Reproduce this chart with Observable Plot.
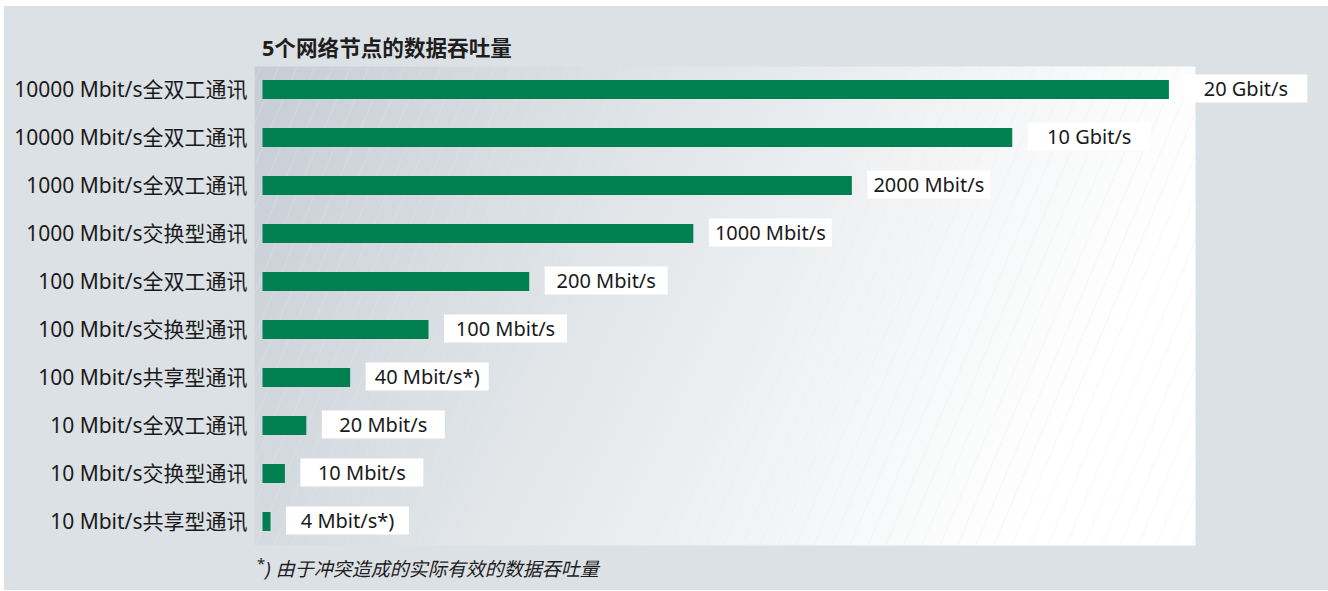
<!DOCTYPE html>
<html>
<head>
<meta charset="utf-8">
<script src="https://cdn.jsdelivr.net/npm/d3@7"></script>
<script src="https://cdn.jsdelivr.net/npm/@observablehq/plot@0.6"></script>
<style>
  html, body { margin: 0; padding: 0; background: #ffffff; }
  body { width: 1328px; height: 591px; position: relative; overflow: hidden;
         font-family: "Noto Sans", "Noto Sans CJK SC", sans-serif; }
  #bg { position: absolute; left: 4px; top: 6px; width: 1324px; height: 584px; background: #dce1e5; }
  #chart { position: absolute; left: 0; top: 0; }
  #title { position: absolute; left: 262px; top: 36px; font-size: 21.6px; line-height: 24px;
           font-weight: bold; color: #1e1e1e; font-family: "Noto Sans", "Noto Sans CJK SC", sans-serif; white-space: nowrap; }
  #note { position: absolute; left: 257px; top: 557px; font-size: 19px; line-height: 24px;
          color: #1e1e1e; white-space: nowrap; }
  #note sup { font-size: 15px; position: relative; top: -7px; vertical-align: baseline; }
  #note i { font-style: italic; }
</style>
</head>
<body>
<div id="bg"></div>
<div id="chart"></div>
<div id="title">5个网络节点的数据吞吐量</div>
<div id="note"><sup>*</sup><i>) 由于冲突造成的实际有效的数据吞吐量</i></div>
<script>
// Row labels, top to bottom
const categories = [
  "10000 Mbit/s全双工通讯",
  "10000 Mbit/s全双工通讯",
  "1000 Mbit/s全双工通讯",
  "1000 Mbit/s交换型通讯",
  "100 Mbit/s全双工通讯",
  "100 Mbit/s交换型通讯",
  "100 Mbit/s共享型通讯",
  "10 Mbit/s全双工通讯",
  "10 Mbit/s交换型通讯",
  "10 Mbit/s共享型通讯"
];
// Throughput value labels
const throughputLabels = [
  "20 Gbit/s", "10 Gbit/s", "2000 Mbit/s", "1000 Mbit/s", "200 Mbit/s",
  "100 Mbit/s", "40 Mbit/s*)", "20 Mbit/s", "10 Mbit/s", "4 Mbit/s*)"
];
// Visual bar lengths (relative units; the original scale is not proportional)
const barLengths = [97.2, 80.4, 63.2, 46.2, 28.6, 17.8, 9.4, 4.7, 2.4, 0.86];

const rows = categories.map((c, i) => ({i, category: c, label: throughputLabels[i], len: barLengths[i]}));

const labelBox = {
  draw(context) { context.rect(-61.5, -14, 123, 28); }
};

const chart = Plot.plot({
  width: 1328,
  height: 591,
  marginLeft: 254,
  marginRight: 133,
  marginTop: 64,
  marginBottom: 44,
  style: {fontFamily: "'Noto Sans', 'Noto Sans CJK SC', sans-serif", background: "transparent", color: "#1a1a1a"},
  x: {domain: [0, 100], insetLeft: 8.5, axis: null},
  y: {type: "band", domain: d3.range(categories.length), paddingInner: 0.6, paddingOuter: 0.3, label: null},
  marks: [
    Plot.frame({fill: "url(#panelGrad)", stroke: "none", insetTop: 2, insetBottom: 2}),
    Plot.frame({fill: "url(#hatchLight)", stroke: "none", insetTop: 2, insetBottom: 2}),
    Plot.frame({fill: "url(#hatchDark)", stroke: "none", insetTop: 2, insetBottom: 2}),
    Plot.barX(rows, {x: "len", y: "i", fill: "#007f50"}),
    Plot.dot(rows, {x: "len", y: "i", dx: 76.5, dy: -1.5, symbol: labelBox, fill: "#ffffff", stroke: "none"}),
    Plot.text(rows, {x: "len", y: "i", text: "label", dx: 76.5, textAnchor: "middle", fontSize: 20, fill: "#1a1a1a"}),
    Plot.axisY({tickSize: 0, tickPadding: 7, fontSize: 21, tickFormat: i => categories[i], label: null})
  ]
});

const defs = `
<defs>
  <linearGradient id="panelGrad" x1="0" y1="0" x2="1" y2="0.25">
    <stop offset="0" stop-color="#c6cdd5"/>
    <stop offset="0.45" stop-color="#e2e6e9"/>
    <stop offset="0.8" stop-color="#f6f7f8"/>
    <stop offset="1" stop-color="#ffffff"/>
  </linearGradient>
  <pattern id="hatchLight" patternUnits="userSpaceOnUse" width="18" height="10" patternTransform="skewX(-23)">
    <line x1="0.5" y1="0" x2="0.5" y2="10" stroke="#ffffff" stroke-opacity="0.25" stroke-width="1"/>
  </pattern>
  <pattern id="hatchDark" patternUnits="userSpaceOnUse" width="18" height="10" patternTransform="skewX(-23)">
    <line x1="0.5" y1="0" x2="0.5" y2="10" stroke="#9aa4ae" stroke-opacity="0.07" stroke-width="1"/>
  </pattern>
</defs>`;
chart.insertAdjacentHTML("afterbegin", defs);
document.getElementById("chart").appendChild(chart);
</script>
</body>
</html>
